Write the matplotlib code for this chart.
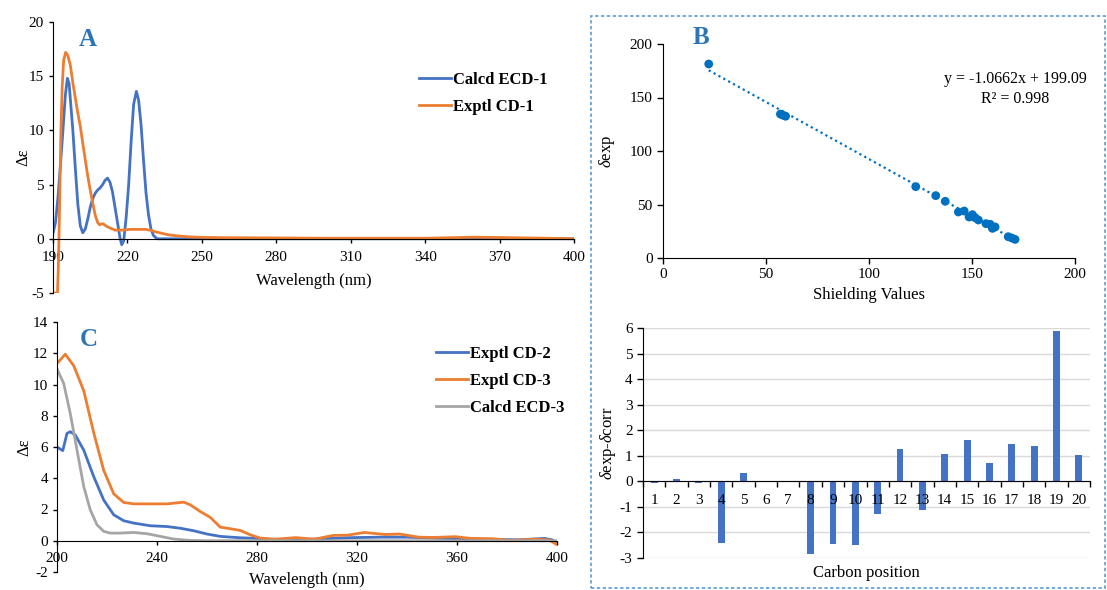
import numpy as np
import matplotlib
matplotlib.use("Agg")
import matplotlib.pyplot as plt
from matplotlib.patches import Rectangle
from matplotlib import transforms

plt.rcParams['font.family'] = ['Liberation Serif', 'DejaVu Serif']
plt.rcParams['mathtext.fontset'] = 'custom'
plt.rcParams['mathtext.rm'] = 'Liberation Serif'
plt.rcParams['mathtext.it'] = 'Liberation Serif:italic'
plt.rcParams['axes.unicode_minus'] = False

# ---------------- Panel A data ----------------
calc1_wl = [190, 191, 192, 193, 194, 195, 195.8, 196.5, 197.3, 198, 199, 200, 201, 202, 203, 204, 205,
            206, 207, 208, 209, 210, 211, 212, 213, 214, 215, 216, 217, 217.7, 218.5, 219.5, 220.5,
            221.5, 222.5, 223.6, 224.5, 225.5, 226.5, 227.5, 228.5, 229.5, 230.5, 232, 260, 300, 400]
calc1 = [0.5, 1.5, 3.8, 6.8, 10.0, 13.3, 14.8, 14.3, 12.0, 10.0, 6.5, 3.2, 1.2, 0.55, 0.9, 1.8, 2.9,
         3.7, 4.2, 4.5, 4.7, 5.0, 5.4, 5.6, 5.2, 4.3, 2.9, 1.5, 0.1, -0.55, -0.2, 2.0, 5.0,
         9.0, 12.4, 13.6, 12.8, 10.5, 7.2, 4.2, 2.2, 0.9, 0.3, 0.0, 0.0, 0.0, 0.0]

exp1_wl = [190, 191.8, 192.1, 192.4, 192.8, 193.2, 193.7, 194.3, 195.1, 196, 197, 198, 199, 200,
           201, 202, 203, 204, 205, 206, 207, 208, 208.7, 210, 212, 215, 218, 221, 224, 227.3,
           229.5, 231.3, 234, 237, 241, 245, 250, 260, 280, 300, 320, 340, 350, 360, 370, 380,
           390, 400]
exp1 = [-5.0, -5.0, -3.0, 0.0, 5.0, 10.0, 14.0, 16.5, 17.2, 16.9, 16.0, 14.4, 13.0, 11.6,
        10.4, 8.8, 7.3, 5.8, 4.5, 3.3, 2.2, 1.5, 1.3, 1.4, 1.1, 0.8, 0.8, 0.87, 0.87, 0.87,
        0.78, 0.65, 0.5, 0.35, 0.25, 0.18, 0.13, 0.1, 0.08, 0.05, 0.05, 0.05, 0.1, 0.15, 0.12,
        0.08, 0.05, 0.0]

# ---------------- Panel C data ----------------
exp2_wl = [200, 202.3, 204, 205.3, 207.3, 210.7, 214.7, 218.7, 222.7, 226.7, 230.7, 237.3, 244,
           249.3, 254.7, 260, 265.3, 273.3, 280, 285.3, 295.5, 305, 317.8, 330, 340, 355, 369.8,
           384.7, 395, 398, 400]
exp2 = [6.0, 5.77, 6.87, 6.98, 6.77, 5.8, 4.1, 2.6, 1.66, 1.28, 1.13, 0.96, 0.91,
        0.8, 0.64, 0.43, 0.28, 0.19, 0.15, 0.06, 0.06, 0.12, 0.2, 0.23, 0.23, 0.15, 0.1,
        0.06, 0.15, 0.06, -0.15]

exp3_wl = [200, 203.3, 206.7, 210.7, 214.7, 218.7, 222.7, 226.7, 230.7, 244, 250.7, 253.3, 257.3,
           261.3, 265.3, 269.3, 273.3, 277.3, 281.3, 287.4, 295.5, 303, 310.4, 316.3, 323, 331.2,
           337, 344.6, 350.5, 359.4, 365.4, 374.3, 381.7, 390.6, 396.6, 400]
exp3 = [11.34, 11.94, 11.2, 9.6, 6.9, 4.5, 3.0, 2.45, 2.36, 2.36, 2.47, 2.3, 1.87,
        1.5, 0.87, 0.77, 0.66, 0.38, 0.17, 0.1, 0.2, 0.1, 0.34, 0.36, 0.53, 0.4,
        0.43, 0.23, 0.21, 0.26, 0.15, 0.13, 0.02, 0.1, 0.06, -0.25]

calc3_wl = [200, 202.7, 205.3, 208, 210.7, 213.3, 216, 218.7, 221.3, 225.3, 230.7, 236, 241.3,
            246.7, 253.3, 260, 300, 400]
calc3 = [11.0, 10.06, 8.15, 5.8, 3.47, 1.98, 1.02, 0.6, 0.49, 0.49, 0.53, 0.45, 0.28,
         0.11, 0.02, 0.0, 0.0, 0.0]

# ---------------- Panel B data ----------------
shielding = [22.2, 57.0, 58.2, 59.5, 122.7, 132.4, 137.0, 143.4, 146.2, 148.6, 150.2, 151.5,
             153.1, 156.8, 158.8, 159.9, 161.2, 167.6, 169.3, 170.9]
delta_exp = [181.3, 134.5, 133.5, 132.5, 66.7, 58.3, 53.0, 43.0, 43.9, 38.3, 40.5, 37.7,
             35.5, 32.1, 31.5, 27.7, 29.0, 19.9, 18.7, 17.4]
fit_slope = -1.0662
fit_intercept = 199.09
fit_r2 = 0.998

carbon_pos = list(range(1, 21))
carbon_labels = [str(i) for i in carbon_pos]
diff = [-0.05, 0.08, -0.08, -2.4, 0.32, 0.0, 0.03, -2.85, -2.45, -2.5, -1.28, 1.28, -1.12,
        1.07, 1.62, 0.72, 1.45, 1.4, 5.9, 1.02]

BLUE = '#4472C4'
ORANGE = '#ED7D31'
GRAY = '#A5A5A5'
LETTER = '#2E75B6'
W, H = 1107, 590

fig = plt.figure(figsize=(W / 100, H / 100), dpi=100)


def axrect(l, t, r, b):
    return [l / W, 1 - b / H, (r - l) / W, (b - t) / H]


TICK = 11
LEGPROP = {'weight': 'bold', 'size': 12}

# ---------------- Panel A ----------------
axA = fig.add_axes(axrect(53, 22, 574, 293))
axA.plot(calc1_wl, calc1, color=BLUE, lw=2, label='Calcd ECD-1', solid_joinstyle='round')
axA.plot(exp1_wl, exp1, color=ORANGE, lw=2, label='Exptl CD-1', solid_joinstyle='round')
axA.set_xlim(190, 400)
axA.set_ylim(-5, 20)
axA.set_xticks(np.arange(190, 401, 30))
axA.set_yticks(np.arange(-5, 21, 5))
axA.spines['bottom'].set_position(('data', 0))
for s in ['top', 'right']:
    axA.spines[s].set_visible(False)
axA.tick_params(axis='both', labelsize=TICK, direction='out', length=3, width=1)
axA.tick_params(axis='x', pad=6)
axA.set_xlabel('Wavelength (nm)', fontsize=12)
axA.xaxis.set_label_coords(0.5, 0.075)
axA.set_ylabel('Δε', fontsize=12, labelpad=-2)
axA.text(0.05, 0.978, 'A', transform=axA.transAxes, fontsize=18, fontweight='bold',
         color=LETTER, va='top', ha='left')
axA.legend(loc='upper left', bbox_to_anchor=(0.69, 0.84), frameon=False,
           prop=LEGPROP, handlelength=1.9, handletextpad=0.15,
           labelspacing=0.65, borderaxespad=0)

# ---------------- Panel C ----------------
axC = fig.add_axes(axrect(57, 322, 557, 572))
axC.plot(exp2_wl, exp2, color=BLUE, lw=2, label='Exptl CD-2')
axC.plot(exp3_wl, exp3, color=ORANGE, lw=2, label='Exptl CD-3')
axC.plot(calc3_wl, calc3, color=GRAY, lw=2, label='Calcd ECD-3')
axC.set_xlim(200, 400)
axC.set_ylim(-2, 14)
axC.set_xticks(np.arange(200, 401, 40))
axC.set_yticks(np.arange(-2, 15, 2))
axC.spines['bottom'].set_position(('data', 0))
for s in ['top', 'right']:
    axC.spines[s].set_visible(False)
axC.tick_params(axis='both', labelsize=TICK, direction='out', length=3, width=1)
axC.tick_params(axis='x', pad=5)
axC.set_xlabel('Wavelength (nm)', fontsize=12)
axC.xaxis.set_label_coords(0.5, 0.0)
axC.set_ylabel('Δε', fontsize=12, labelpad=0)
axC.text(0.046, 0.976, 'C', transform=axC.transAxes, fontsize=18, fontweight='bold',
         color=LETTER, va='top', ha='left')
axC.legend(loc='upper left', bbox_to_anchor=(0.745, 0.93), frameon=False,
           prop=LEGPROP, handlelength=1.9, handletextpad=0.15,
           labelspacing=0.65, borderaxespad=0)

# ---------------- Panel B scatter ----------------
axB = fig.add_axes(axrect(663, 44, 1075, 258))
axB.scatter(shielding, delta_exp, s=40, color='#0070C0', zorder=3, edgecolors='none')
xf = np.array([min(shielding), max(shielding)])
axB.plot(xf, fit_slope * xf + fit_intercept, color='#0070C0', lw=1.6, ls=(0, (1, 1.5)), zorder=2)
axB.set_xlim(0, 200)
axB.set_ylim(0, 200)
axB.set_xticks(np.arange(0, 201, 50))
axB.set_yticks(np.arange(0, 201, 50))
for s in ['top', 'right']:
    axB.spines[s].set_visible(False)
axB.tick_params(axis='both', labelsize=TICK, direction='out', length=4, width=1)
axB.set_xlabel('Shielding Values', fontsize=12, labelpad=4)
axB.set_ylabel(r'$\mathit{\delta}$exp', fontsize=12, labelpad=9)
axB.text(171, 167, 'y = %.4fx + %.2f' % (fit_slope, fit_intercept), fontsize=11.5,
         ha='center', va='center')
axB.text(171, 149, 'R² = %.3f' % fit_r2, fontsize=11.5, ha='center', va='center')
axB.text(0.073, 1.084, 'B', transform=axB.transAxes, fontsize=18, fontweight='bold',
         color=LETTER, va='top', ha='left')

# ---------------- Panel B bars ----------------
axD = fig.add_axes(axrect(643, 328, 1090, 558))
axD.bar(carbon_pos, diff, width=0.31, color=BLUE, zorder=2)
axD.set_xlim(0.5, 20.5)
axD.set_ylim(-3, 6)
axD.set_yticks(np.arange(-3, 7, 1))
axD.yaxis.grid(True, color='#D9D9D9', lw=1)
axD.set_axisbelow(True)
axD.spines['bottom'].set_position(('data', 0))
axD.spines['bottom'].set_zorder(3)
for s in ['top', 'right']:
    axD.spines[s].set_visible(False)
axD.set_xticks(np.arange(0.5, 20.6, 1))
axD.set_xticklabels([])
axD.tick_params(axis='x', which='major', length=4, direction='out', width=1)
axD.tick_params(axis='y', labelsize=TICK, length=4, direction='out', width=1)
# category labels drawn on top of the bars, just below the zero line
lbl_tr = transforms.offset_copy(axD.transData, fig=fig, x=0, y=-9, units='points')
for pos, lab in zip(carbon_pos, carbon_labels):
    axD.text(pos, 0, lab, transform=lbl_tr, ha='center', va='top', fontsize=TICK, zorder=5)
axD.set_xlabel('Carbon position', fontsize=12)
axD.xaxis.set_label_coords(0.5, -0.03)
axD.set_ylabel(r'$\mathit{\delta}$exp-$\mathit{\delta}$corr', fontsize=12, labelpad=1)

# dashed frame around panel B
fig.patches.append(Rectangle((591 / W, 1 - 588 / H), (1105 - 591) / W, (588 - 16) / H,
                             transform=fig.transFigure, fill=False, edgecolor='#5B9BD5',
                             lw=1.2, ls=(0, (2, 1.5))))

fig.savefig('out.png', dpi=100)
